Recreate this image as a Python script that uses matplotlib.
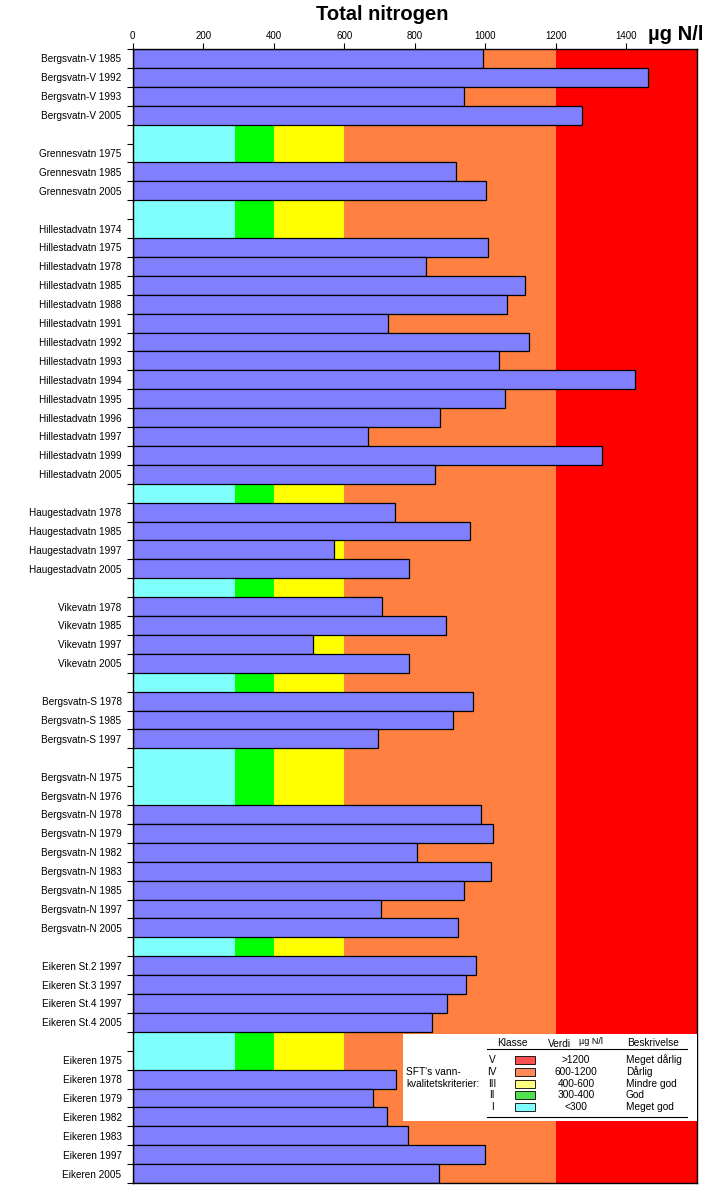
#Total nitrogen in lakes, horizontal bars over SFT water quality classes
import numpy as np
import matplotlib
matplotlib.use('Agg')
import matplotlib.pyplot as plt
from matplotlib.patches import Rectangle

#row labels ('' = empty row between lakes)
labels = ['Bergsvatn-V 1985', 'Bergsvatn-V 1992', 'Bergsvatn-V 1993', 'Bergsvatn-V 2005', '',
          'Grennesvatn 1975', 'Grennesvatn 1985', 'Grennesvatn 2005', '',
          'Hillestadvatn 1974', 'Hillestadvatn 1975', 'Hillestadvatn 1978', 'Hillestadvatn 1985',
          'Hillestadvatn 1988', 'Hillestadvatn 1991', 'Hillestadvatn 1992', 'Hillestadvatn 1993',
          'Hillestadvatn 1994', 'Hillestadvatn 1995', 'Hillestadvatn 1996', 'Hillestadvatn 1997',
          'Hillestadvatn 1999', 'Hillestadvatn 2005', '',
          'Haugestadvatn 1978', 'Haugestadvatn 1985', 'Haugestadvatn 1997', 'Haugestadvatn 2005', '',
          'Vikevatn 1978', 'Vikevatn 1985', 'Vikevatn 1997', 'Vikevatn 2005', '',
          'Bergsvatn-S 1978', 'Bergsvatn-S 1985', 'Bergsvatn-S 1997', '',
          'Bergsvatn-N 1975', 'Bergsvatn-N 1976', 'Bergsvatn-N 1978', 'Bergsvatn-N 1979',
          'Bergsvatn-N 1982', 'Bergsvatn-N 1983', 'Bergsvatn-N 1985', 'Bergsvatn-N 1997',
          'Bergsvatn-N 2005', '',
          'Eikeren St.2 1997', 'Eikeren St.3 1997', 'Eikeren St.4 1997', 'Eikeren St.4 2005', '',
          'Eikeren 1975', 'Eikeren 1978', 'Eikeren 1979', 'Eikeren 1982', 'Eikeren 1983',
          'Eikeren 1997', 'Eikeren 2005']

#total N, ug N/l (nan = no value)
nan = np.nan
tot_n = [992, 1462, 939, 1275, nan,
         nan, 916, 1002, nan,
         nan, 1008, 831, 1111, 1060, 724, 1125, 1038, 1423, 1055, 871, 667, 1332, 857, nan,
         743, 956, 571, 783, nan,
         707, 888, 511, 783, nan,
         964, 908, 695, nan,
         nan, nan, 987, 1021, 806, 1015, 939, 704, 922, nan,
         973, 944, 890, 848, nan,
         nan, 746, 681, 721, 780, 998, 868]

#class limits drawn in the background
band_edges = [0, 290, 400, 600, 1200, 1600]
band_colors = ['#80ffff', '#00ff00', '#ffff00', '#ff8040', '#ff0000']

#legend table
leg_class = ['V', 'IV', 'III', 'II', 'I']
leg_range = ['>1200', '600-1200', '400-600', '300-400', '<300']
leg_desc = ['Meget dårlig', 'Dårlig', 'Mindre god', 'God', 'Meget god']
leg_colors = ['#ff5050', '#ff8a5c', '#ffff80', '#50e050', '#80ffff']

W, H = 706, 1192
def fx(px): return px / W
def fy(py): return 1 - py / H

narrow = ['Liberation Sans Narrow', 'Liberation Sans', 'DejaVu Sans']
arial = ['Liberation Sans', 'DejaVu Sans']

fig = plt.figure(figsize=(W / 100, H / 100), dpi=100)
ax = fig.add_axes([fx(132.7), fy(1183), fx(697) - fx(132.7), fy(49) - fy(1183)])

for i in range(len(band_colors)):
    ax.axvspan(band_edges[i], band_edges[i + 1], color=band_colors[i], lw=0, zorder=0)

y = np.arange(len(labels))
ax.barh(y, tot_n, height=1.0, color='#8080ff', edgecolor='black', lw=0.9, zorder=2)

ax.set_xlim(0, 1600)
ax.set_ylim(len(labels) - 0.5, -0.5)

ax.xaxis.tick_top()
ax.set_xticks(np.arange(0, 1401, 200))
ax.set_xticklabels([str(v) for v in range(0, 1401, 200)], family=narrow, fontsize=7)
ax.tick_params(axis='x', length=4, width=0.8, pad=2)

ax.set_yticks(y)
ax.set_yticklabels(labels, family=arial, fontsize=7.2)
ax.set_yticks(np.arange(-0.5, len(labels), 1), minor=True)
ax.tick_params(axis='y', which='major', length=0, pad=8)
ax.tick_params(axis='y', which='minor', length=4, width=0.8)
for s in ax.spines.values():
    s.set_linewidth(1.0)

fig.text(fx(382), fy(14), 'Total nitrogen', ha='center', va='center',
         fontsize=14.5, fontweight='bold', family=narrow)
fig.text(fx(703), fy(34), 'µg N/l', ha='right', va='center',
         fontsize=14.5, fontweight='bold', family=narrow)

#legend box
fig.patches.append(Rectangle((fx(403), fy(1121)), fx(697) - fx(403), fy(1034) - fy(1121),
                             transform=fig.transFigure, facecolor='white', edgecolor='none', zorder=5))
tk = dict(fontsize=7.3, family=arial, va='center', zorder=6)
fig.text(fx(512), fy(1043), 'Klasse', ha='center', **tk)
fig.text(fx(548), fy(1044), 'Verdi', ha='left', **tk)
fig.text(fx(579), fy(1042), 'µg N/l', ha='left', fontsize=6.5, family=arial, va='center', zorder=6)
fig.text(fx(627), fy(1043), 'Beskrivelse', ha='left', **tk)
fig.lines.append(plt.Line2D([fx(487), fx(687)], [fy(1049), fy(1049)], transform=fig.transFigure,
                            color='black', lw=0.8, zorder=6))
fig.lines.append(plt.Line2D([fx(487), fx(687)], [fy(1117), fy(1117)], transform=fig.transFigure,
                            color='black', lw=0.8, zorder=6))
fig.text(fx(406), fy(1072), "SFT's vann-", ha='left', **tk)
fig.text(fx(406), fy(1084), 'kvalitetskriterier:', ha='left', **tk)
for i in range(len(leg_class)):
    yy = 1060 + i * 11.8
    fig.text(fx(492), fy(yy), leg_class[i], ha='center', **tk)
    fig.patches.append(Rectangle((fx(515), fy(yy + 4)), fx(535) - fx(515), fy(yy - 4) - fy(yy + 4),
                                 transform=fig.transFigure, facecolor=leg_colors[i],
                                 edgecolor='black', lw=0.6, zorder=6))
    fig.text(fx(576), fy(yy), leg_range[i], ha='center', **tk)
    fig.text(fx(626), fy(yy), leg_desc[i], ha='left', **tk)

fig.savefig('out.png', dpi=100)
